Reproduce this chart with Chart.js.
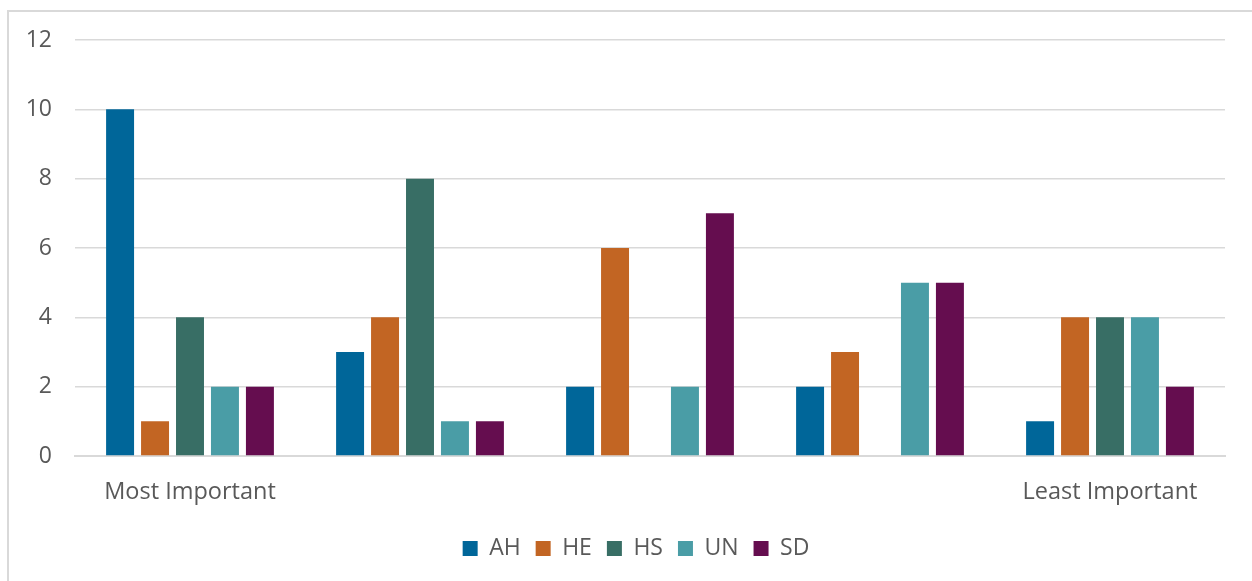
<!DOCTYPE html>
<html>
<head>
<meta charset="utf-8">
<script src="https://cdn.jsdelivr.net/npm/chart.js@4/dist/chart.umd.min.js"></script>
<style>
  html, body { margin: 0; padding: 0; background: #fff; overflow: hidden; }
  #frame { position: absolute; left: 7px; top: 10px; width: 1300px; height: 650px; border: 2px solid #d9d9d9; box-sizing: border-box; }
  #grafico { position: absolute; left: 0; top: 0; }
</style>
</head>
<body>
<div id="frame"></div>
<canvas id="grafico" width="1252" height="581"></canvas>
<script>
// categorias y valores
const categorias = ['Most Important', '', '', '', 'Least Important'];
const AH = [10, 3, 2, 2, 1];
const HE = [1, 4, 6, 3, 4];
const HS = [4, 8, 0, 0, 4];
const UN = [2, 1, 2, 5, 4];
const SD = [2, 1, 7, 5, 2];
const yTicks = [0, 2, 4, 6, 8, 10, 12];

const series = [
    { label: 'AH', data: AH, color: '#006699' },
    { label: 'HE', data: HE, color: '#c26523' },
    { label: 'HS', data: HS, color: '#386e65' },
    { label: 'UN', data: UN, color: '#4a9da6' },
    { label: 'SD', data: SD, color: '#650d4f' }
];

const gris = '#595959';
const fuente = "'Open Sans', sans-serif";

// la leyenda de la figura esta un poco corrida a la derecha
const moverLeyenda = {
    id: 'moverLeyenda',
    afterLayout(chart) {
        chart.legend.left += 47;
    }
};

new Chart(document.getElementById('grafico').getContext('2d'), {
    type: 'bar',
    data: {
        labels: categorias,
        datasets: series.map(s => ({
            label: s.label,
            data: s.data,
            backgroundColor: s.color,
            borderWidth: 0,
            barPercentage: 0.8,
            categoryPercentage: 0.76
        }))
    },
    plugins: [moverLeyenda],
    options: {
        responsive: false,
        animation: false,
        devicePixelRatio: 1,
        layout: { padding: { top: 40, right: 27, bottom: 11, left: 0 } },
        scales: {
            x: {
                grid: { display: false, drawTicks: false },
                border: { color: '#d9d9d9', width: 2 },
                ticks: { color: gris, font: { family: fuente, size: 23.5 }, padding: 22, maxRotation: 0, autoSkip: false },
                afterFit: s => { s.height = 66; }
            },
            y: {
                min: 0,
                max: 12,
                afterBuildTicks: s => { s.ticks = yTicks.map(v => ({ value: v })); },
                grid: { color: '#d9d9d9', lineWidth: 1.5, drawTicks: false },
                border: { display: false },
                ticks: { color: gris, font: { family: fuente, size: 23 }, padding: 23 },
                afterFit: s => { s.width = 75; }
            }
        },
        plugins: {
            legend: {
                position: 'bottom',
                labels: {
                    color: gris,
                    font: { family: fuente, size: 23 },
                    boxWidth: 15,
                    boxHeight: 15,
                    padding: 15
                }
            },
            tooltip: { enabled: false }
        }
    }
});
</script>
</body>
</html>
